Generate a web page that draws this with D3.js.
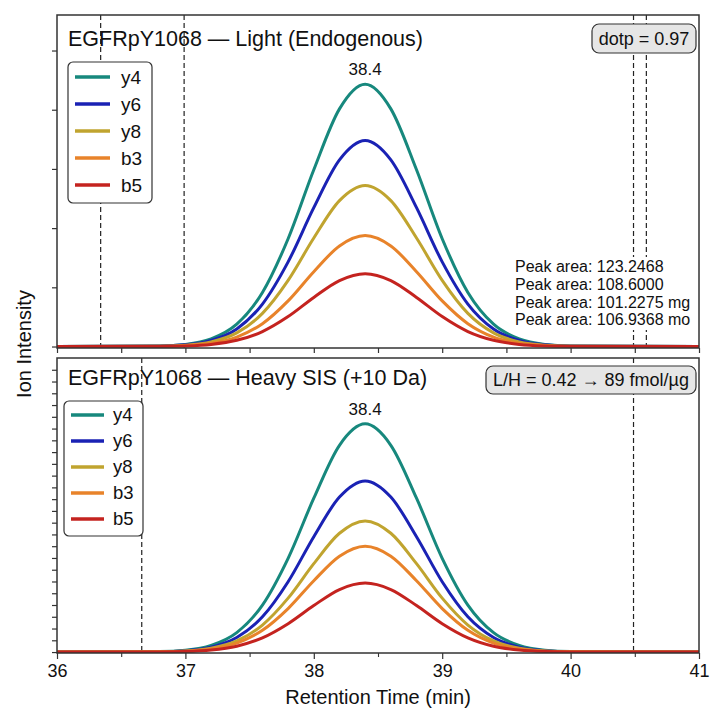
<!DOCTYPE html>
<html>
<head>
<meta charset="utf-8">
<script src="https://cdn.jsdelivr.net/npm/d3@7"></script>
<style>
  body { margin: 0; background: #fff; }
  text { font-family: "Liberation Sans", Arial, sans-serif; fill: #111; }
</style>
</head>
<body>
<svg id="chart" width="717" height="717"></svg>
<script>
// retention times (min) sampled along the traces
const times = [36.0, 36.8, 37.0, 37.2, 37.4, 37.6, 37.8, 38.0, 38.2, 38.4, 38.6, 38.8, 39.0, 39.2, 39.4, 39.6, 39.8, 40.0, 41.0];

const ions = ["y4", "y6", "y8", "b3", "b5"];

// light (endogenous) traces, intensity in arbitrary units
const lightY4 = [0, 0.009, 0.035, 0.128, 0.377, 0.913, 1.821, 2.986, 4.014, 4.43, 4.014, 2.986, 1.821, 0.913, 0.377, 0.128, 0.035, 0.009, 0];
const lightY6 = [0, 0.007, 0.028, 0.101, 0.296, 0.717, 1.430, 2.346, 3.153, 3.48, 3.153, 2.346, 1.430, 0.717, 0.296, 0.101, 0.028, 0.007, 0];
const lightY8 = [0, 0.005, 0.022, 0.079, 0.231, 0.560, 1.118, 1.833, 2.464, 2.72, 2.464, 1.833, 1.118, 0.560, 0.231, 0.079, 0.022, 0.005, 0];
const lightB3 = [0, 0.004, 0.015, 0.054, 0.159, 0.386, 0.771, 1.264, 1.699, 1.875, 1.699, 1.264, 0.771, 0.386, 0.159, 0.054, 0.015, 0.004, 0];
const lightB5 = [0, 0.002, 0.010, 0.036, 0.105, 0.253, 0.506, 0.829, 1.114, 1.23, 1.114, 0.829, 0.506, 0.253, 0.105, 0.036, 0.010, 0.002, 0];

// heavy (SIS) traces
const heavyY4 = [0, 0.039, 0.155, 0.563, 1.649, 3.996, 7.973, 13.08, 17.58, 19.4, 17.58, 13.08, 7.973, 3.996, 1.649, 0.563, 0.155, 0.039, 0];
const heavyY6 = [0, 0.029, 0.116, 0.422, 1.237, 2.997, 5.980, 9.807, 13.18, 14.55, 13.18, 9.807, 5.980, 2.997, 1.237, 0.422, 0.116, 0.029, 0];
const heavyY8 = [0, 0.022, 0.089, 0.323, 0.948, 2.297, 4.583, 7.515, 10.10, 11.15, 10.10, 7.515, 4.583, 2.297, 0.948, 0.323, 0.089, 0.022, 0];
const heavyB3 = [0, 0.018, 0.072, 0.261, 0.765, 1.854, 3.699, 6.066, 8.154, 9.0, 8.154, 6.066, 3.699, 1.854, 0.765, 0.261, 0.072, 0.018, 0];
const heavyB5 = [0, 0.012, 0.047, 0.170, 0.499, 1.209, 2.413, 3.956, 5.318, 5.87, 5.318, 3.956, 2.413, 1.209, 0.499, 0.170, 0.047, 0.012, 0];

const apexTime = 38.4;
const lightBounds = [36.34, 36.99, 40.49, 40.59];
const heavyBounds = [36.66, 40.49];
const peakAreas = ["Peak area: 123.2468", "Peak area: 108.6000", "Peak area: 101.2275 mg", "Peak area: 106.9368 mo"];

const xMajor = [36, 37, 38, 39, 40, 41];
const xMinor = [36.5, 37.5, 38.5, 39.5, 40.5];
const lightYTicks = [0, 1, 2, 3, 4, 5];
const heavyYTicks = d3.range(0, 25, 1);

const colors = ["#17887d", "#1a22b4", "#c0a42f", "#e8832a", "#c4231f"];
const font = "\"Liberation Sans\", Arial, sans-serif";

const svg = d3.select("#chart");
const left = 57, right = 699;

const x = d3.scaleLinear().domain([36, 41]).range([left, right]);

function drawPanel(p) {
    const y = d3.scaleLinear().domain(p.yDomain).range([p.bottom, p.top]);
    const g = svg.append("g");

    g.append("clipPath").attr("id", p.id + "-clip")
        .append("rect")
        .attr("x", left).attr("y", p.top)
        .attr("width", right - left).attr("height", p.bottom - p.top);

    // integration boundaries
    g.selectAll(".bound")
        .data(p.bounds)
        .enter()
        .append("line")
        .attr("x1", d => x(d)).attr("x2", d => x(d))
        .attr("y1", p.top).attr("y2", p.bottom)
        .attr("stroke", "#222")
        .attr("stroke-width", 1.2)
        .attr("stroke-dasharray", "5,3");

    const line = d3.line()
        .x(d => x(d[0]))
        .y(d => y(d[1]))
        .curve(d3.curveMonotoneX);

    const traces = p.series.map((s, i) => ({ ion: ions[i], color: colors[i], pts: times.map((t, j) => [t, s[j]]) }));

    g.append("g").attr("clip-path", `url(#${p.id}-clip)`)
        .selectAll("path")
        .data(traces)
        .enter()
        .append("path")
        .attr("d", d => line(d.pts))
        .attr("fill", "none")
        .attr("stroke", d => d.color)
        .attr("stroke-width", 3)
        .attr("stroke-linejoin", "round");

    // apex label
    const apexVal = d3.max(p.series[0]);
    g.append("text")
        .attr("x", x(apexTime))
        .attr("y", y(apexVal) - 9)
        .attr("text-anchor", "middle")
        .style("font-size", "17px")
        .text(apexTime.toFixed(1));

    // y ticks (no labels)
    const yAxis = g.append("g")
        .attr("transform", `translate(${left},0)`)
        .call(d3.axisLeft(y).tickValues(p.yTicks).tickFormat("").tickSizeInner(5).tickSizeOuter(0));
    yAxis.select(".domain").remove();
    yAxis.selectAll(".tick line").attr("stroke", "#333").attr("stroke-width", 1.2);

    // x ticks
    if (p.xLabels) {
        const xa = g.append("g")
            .attr("transform", `translate(0,${p.bottom})`)
            .call(d3.axisBottom(x).tickValues(xMajor).tickFormat(d3.format("d")).tickSizeInner(6).tickSizeOuter(0).tickPadding(5));
        xa.select(".domain").remove();
        xa.selectAll(".tick line").attr("stroke", "#333").attr("stroke-width", 1.2);
        xa.selectAll(".tick text").style("font-size", "18px").style("font-family", font).attr("fill", "#111");
        const xm = g.append("g")
            .attr("transform", `translate(0,${p.bottom})`)
            .call(d3.axisBottom(x).tickValues(xMinor).tickFormat("").tickSizeInner(4).tickSizeOuter(0));
        xm.select(".domain").remove();
        xm.selectAll(".tick line").attr("stroke", "#333").attr("stroke-width", 1.1);
    } else {
        const xa = g.append("g")
            .attr("transform", `translate(0,${p.bottom})`)
            .call(d3.axisBottom(x).tickValues(xMajor.concat(xMinor)).tickFormat("").tickSizeInner(5).tickSizeOuter(0));
        xa.select(".domain").remove();
        xa.selectAll(".tick line").attr("stroke", "#333").attr("stroke-width", 1.2);
    }

    // frame
    g.append("rect")
        .attr("x", left).attr("y", p.top)
        .attr("width", right - left).attr("height", p.bottom - p.top)
        .attr("fill", "none")
        .attr("stroke", "#333")
        .attr("stroke-width", 1.5);

    // title
    g.append("text")
        .attr("x", 68).attr("y", p.top + p.titleDy)
        .style("font-size", "21.5px")
        .text(p.title);

    // legend
    const lg = p.legend;
    g.append("rect")
        .attr("x", lg.x).attr("y", lg.y)
        .attr("width", lg.w).attr("height", lg.h)
        .attr("rx", 5)
        .attr("fill", "#fff")
        .attr("stroke", "#333")
        .attr("stroke-width", 1.2);
    const items = g.selectAll(".leg")
        .data(traces)
        .enter()
        .append("g")
        .attr("transform", (d, i) => `translate(0,${lg.y0 + i * lg.step})`);
    items.append("line")
        .attr("x1", lg.x + 7).attr("x2", lg.x + 7 + lg.len)
        .attr("stroke", d => d.color)
        .attr("stroke-width", 3.5);
    items.append("text")
        .attr("x", lg.x + lg.tx)
        .attr("dy", "0.35em")
        .style("font-size", lg.fs)
        .text(d => d.ion);

    // annotation box
    const bx = p.box;
    g.append("rect")
        .attr("x", bx.x).attr("y", bx.y)
        .attr("width", bx.w).attr("height", bx.h)
        .attr("rx", 7)
        .attr("fill", "#e6e6e6")
        .attr("stroke", "#333")
        .attr("stroke-width", 1.2);
    g.append("text")
        .attr("x", bx.x + bx.w / 2).attr("y", bx.y + bx.h / 2)
        .attr("dy", "0.35em")
        .attr("text-anchor", "middle")
        .style("font-size", "18px")
        .text(bx.text);

    return g;
}

drawPanel({
    id: "light", top: 15, bottom: 348, yDomain: [-0.025, 5.6],
    series: [lightY4, lightY6, lightY8, lightB3, lightB5],
    bounds: lightBounds, yTicks: lightYTicks, xLabels: false,
    title: "EGFRpY1068 \u2014 Light (Endogenous)", titleDy: 31,
    legend: { x: 68, y: 62, w: 84, h: 141, y0: 77, step: 27, len: 35, tx: 53, fs: "19px" },
    box: { x: 592, y: 24, w: 104, h: 29, text: "dotp = 0.97" }
});

drawPanel({
    id: "heavy", top: 358, bottom: 653, yDomain: [-0.08, 25.0],
    series: [heavyY4, heavyY6, heavyY8, heavyB3, heavyB5],
    bounds: heavyBounds, yTicks: heavyYTicks, xLabels: true,
    title: "EGFRpY1068 \u2014 Heavy SIS (+10 Da)", titleDy: 27,
    legend: { x: 64, y: 401, w: 79, h: 135, y0: 415, step: 26, len: 33, tx: 49, fs: "18.5px" },
    box: { x: 486, y: 366, w: 210, h: 28, text: "L/H = 0.42 \u2192 89 fmol/\u00b5g" }
});

// peak area notes in the light panel, on a white backing
const notes = svg.append("g");
notes.append("rect")
    .attr("x", 511).attr("y", 257)
    .attr("width", 186).attr("height", 73)
    .attr("fill", "#fff");
notes.selectAll("text")
    .data(peakAreas)
    .enter()
    .append("text")
    .attr("x", 515)
    .attr("y", (d, i) => 272 + i * 17.8)
    .style("font-size", "16px")
    .text(d => d);

// axis labels
svg.append("text")
    .attr("x", (left + right) / 2)
    .attr("y", 704)
    .attr("text-anchor", "middle")
    .style("font-size", "20px")
    .text("Retention Time (min)");

svg.append("text")
    .attr("transform", "translate(31,344) rotate(-90)")
    .attr("text-anchor", "middle")
    .style("font-size", "20px")
    .text("Ion Intensity");
</script>
</body>
</html>
